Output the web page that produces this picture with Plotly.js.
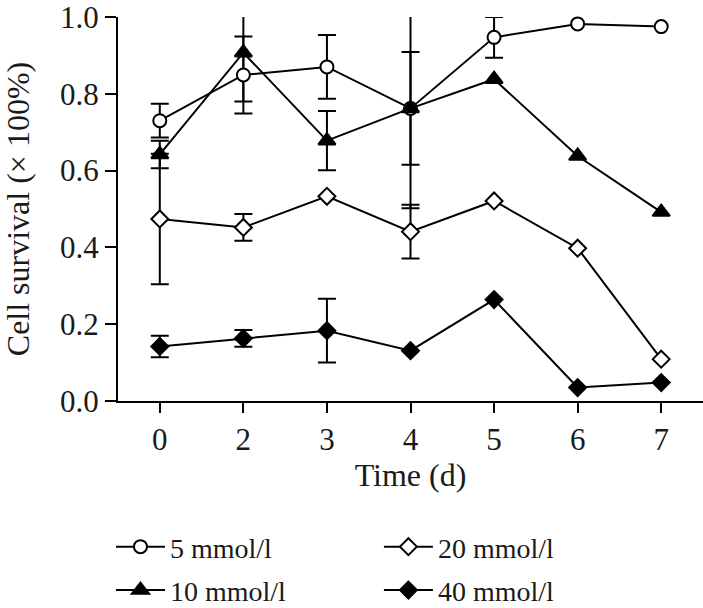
<!DOCTYPE html>
<html>
<head>
<meta charset="utf-8">
<script src="https://cdn.plot.ly/plotly-3.0.1.min.js"></script>
<style>html,body{margin:0;padding:0;background:#fff;}#chart{width:703px;height:608px;}</style>
</head>
<body>
<div id="chart"></div>
<script>
const days = ['0', '2', '3', '4', '5', '6', '7'];
const seriesNames = ['5 mmol/l', '10 mmol/l', '20 mmol/l', '40 mmol/l'];
const survival5 = [0.730, 0.849, 0.870, 0.762, 0.947, 0.982, 0.975];
const error5 = [0.044, 0.100, 0.083, 0.147, 0.053, null, null];
const survival10 = [0.642, 0.907, 0.678, 0.762, 0.838, 0.638, 0.492];
const error10 = [0.036, 0.127, 0.077, 0.260, null, null, null];
const survival20 = [0.474, 0.452, 0.533, 0.441, 0.521, 0.398, 0.109];
const error20 = [0.170, 0.035, null, 0.070, null, null, null];
const survival40 = [0.142, 0.163, 0.183, 0.131, 0.264, 0.035, 0.048];
const error40 = [0.028, 0.022, 0.083, null, null, null, null];
const yTicks = [0, 0.2, 0.4, 0.6, 0.8, 1.0];

const FONT = '"Liberation Serif", "DejaVu Serif", serif';
const AXFONT = {family: FONT, size: 31, color: '#1a1a1a'};
const TITLEFONT = {family: FONT, size: 32, color: '#1a1a1a'};

function errTrace(y, err) {
  const xs = [], ys = [], es = [];
  days.forEach((d, i) => { if (err[i] != null) { xs.push(d); ys.push(y[i]); es.push(err[i]); } });
  return {
    type: 'scatter', mode: 'markers', x: xs, y: ys, showlegend: false, hoverinfo: 'skip',
    marker: {size: 1, opacity: 0},
    error_y: {type: 'data', array: es, visible: true, color: '#000', thickness: 2, width: 9},
    cliponaxis: false
  };
}

function mk(name, y, symbol, size, fill, legend, group) {
  return {
    type: 'scatter', mode: 'lines+markers', name: name, x: days, y: y,
    legend: legend, legendgroup: group,
    line: {color: '#000', width: 2},
    marker: {symbol: symbol, size: size, color: fill, line: {color: '#000', width: 2}},
    cliponaxis: false
  };
}

const traces = [
  errTrace(survival5, error5),
  errTrace(survival10, error10),
  errTrace(survival20, error20),
  errTrace(survival40, error40),
  mk(seriesNames[0], survival5, 'circle', 13, '#fff', 'legend', 'a'),
  mk(seriesNames[1], survival10, 'triangle-up', 15, '#000', 'legend', 'b'),
  mk(seriesNames[2], survival20, 'diamond', 13, '#fff', 'legend2', 'c'),
  mk(seriesNames[3], survival40, 'diamond', 13, '#000', 'legend2', 'd')
];

const legendBase = {
  orientation: 'v', yanchor: 'top', xanchor: 'left',
  font: {family: FONT, size: 28, color: '#1a1a1a'},
  bgcolor: 'rgba(0,0,0,0)', borderwidth: 0, tracegroupgap: 4,
  itemwidth: 49
};

const layout = {
  width: 703, height: 608,
  margin: {l: 118, r: 0, t: 17, b: 207, autoexpand: false},
  paper_bgcolor: '#fff', plot_bgcolor: '#fff',
  font: AXFONT,
  showlegend: true,
  legend: Object.assign({}, legendBase, {x: -0.012, y: -0.315}),
  legend2: Object.assign({}, legendBase, {x: 0.446, y: -0.315}),
  xaxis: {
    type: 'category', categoryorder: 'array', categoryarray: days,
    range: [-0.5, 6.5], showgrid: false, zeroline: false, automargin: false,
    showline: true, linecolor: '#000', linewidth: 2,
    ticks: 'outside', ticklen: 10, tickwidth: 2, tickcolor: '#000',
    tickfont: AXFONT,
    title: {text: 'Time (d)', font: TITLEFONT, standoff: 2},
    fixedrange: true
  },
  yaxis: {
    range: [0, 1.0], tickvals: yTicks, tickformat: '.1f', automargin: false,
    ticklabeloverflow: 'allow',
    showgrid: false, zeroline: false,
    showline: true, linecolor: '#000', linewidth: 2,
    ticks: 'outside', ticklen: 11, tickwidth: 2, tickcolor: '#000',
    tickfont: AXFONT,
    title: {text: 'Cell survival (× 100%)', font: TITLEFONT, standoff: 26},
    fixedrange: true
  }
};

Plotly.newPlot('chart', traces, layout, {displayModeBar: false, staticPlot: true});
</script>
</body>
</html>
